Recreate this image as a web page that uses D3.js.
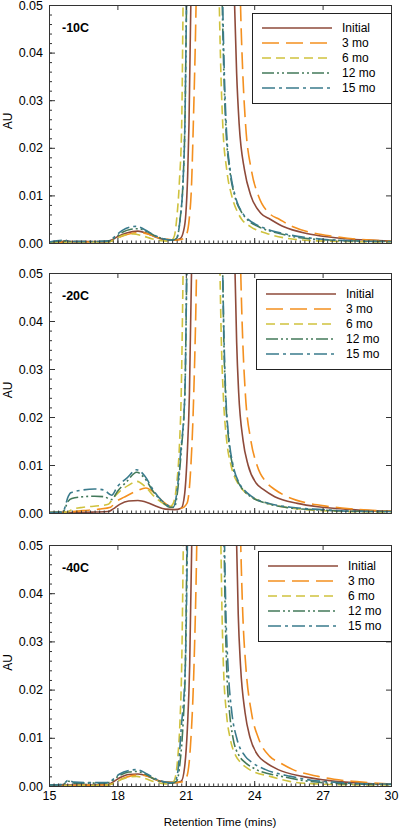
<!DOCTYPE html>
<html><head><meta charset="utf-8">
<script src="https://cdn.jsdelivr.net/npm/d3@7"></script>
<style>body{margin:0;background:#fff}svg{display:block}text{font-family:"Liberation Sans",Arial,sans-serif}</style>
</head><body>
<script>
// ---------- data ----------
const retentionTicks = [15, 18, 21, 24, 27, 30];
const auTicks = [0, 0.01, 0.02, 0.03, 0.04, 0.05];
const panelLabels = ["-10C", "-20C", "-40C"];
const seriesNames = ["Initial", "3 mo", "6 mo", "12 mo", "15 mo"];

// -10C
const c10_initial = [[15,0.0002],[15.6,0.0003],[15.75,0.0005],[15.9,0.0003],[16.5,0.0003],[17.5,0.0003],[17.7,0.0005],[18.0,0.0013],[18.4,0.0021],[18.9,0.0025],[19.3,0.002],[19.7,0.0012],[20.1,0.0007],[20.5,0.0006],[20.75,0.0009],[20.9,0.0025],[21.0,0.006],[21.08,0.014],[21.14,0.025],[21.22,0.05],[21.4,0.15],[22.2,0.5],[22.9,0.13],[23.14,0.05],[23.23,0.0356],[23.34,0.025],[23.58,0.0152],[23.85,0.01],[24.3,0.0062],[24.7,0.005],[25.3,0.0034],[26.3,0.002],[27.2,0.0013],[28,0.0009],[29,0.0006],[30,0.0004]];
const c10_3mo = [[15,0.0001],[16,0.0002],[17,0.0002],[17.6,0.0002],[17.8,0.0005],[18.2,0.0014],[18.6,0.002],[19.0,0.0022],[19.4,0.0018],[19.8,0.0011],[20.2,0.0008],[20.6,0.0006],[20.9,0.0009],[21.05,0.002],[21.15,0.005],[21.25,0.012],[21.33,0.025],[21.45,0.05],[21.7,0.15],[22.4,0.5],[23.15,0.13],[23.4,0.05],[23.5,0.0356],[23.62,0.025],[23.88,0.0152],[24.18,0.01],[24.67,0.0062],[25.1,0.005],[25.7,0.0034],[26.7,0.002],[27.5,0.0014],[28.5,0.0008],[30,0.0004]];
const c10_6mo = [[15,0.0001],[16,0.0002],[17,0.0002],[17.6,0.0002],[17.8,0.0005],[18.2,0.0015],[18.7,0.0019],[19.1,0.0015],[19.5,0.0009],[19.9,0.0005],[20.2,0.0004],[20.4,0.0007],[20.5,0.0015],[20.6,0.005],[20.72,0.013],[20.82,0.025],[20.88,0.05],[21.1,0.15],[21.8,0.5],[22.25,0.13],[22.47,0.05],[22.54,0.0356],[22.62,0.025],[22.8,0.0152],[23.01,0.01],[23.3,0.0062],[23.45,0.005],[23.85,0.0034],[24.55,0.002],[25.3,0.0011],[26.5,0.0005],[28,0.0003],[30,0.0002]];
const c10_12mo = [[15,0.0002],[15.7,0.0004],[16,0.0003],[17,0.0003],[17.6,0.0004],[17.8,0.0008],[18.2,0.0022],[18.6,0.0029],[18.9,0.003],[19.3,0.0024],[19.7,0.0014],[20.1,0.0008],[20.4,0.0006],[20.6,0.001],[20.75,0.005],[20.88,0.013],[20.96,0.025],[21.03,0.05],[21.25,0.15],[21.95,0.5],[22.38,0.13],[22.6,0.05],[22.67,0.0356],[22.75,0.025],[22.93,0.0152],[23.14,0.01],[23.48,0.0062],[23.7,0.0049],[24.2,0.0034],[25.1,0.002],[26,0.0011],[27,0.0007],[28,0.0005],[30,0.0003]];
const c10_15mo = [[15,0.0002],[15.7,0.0006],[15.9,0.0003],[17,0.0003],[17.6,0.0004],[17.8,0.001],[18.2,0.0026],[18.6,0.0034],[18.85,0.0035],[19.2,0.0028],[19.6,0.0017],[20.0,0.0009],[20.4,0.0006],[20.6,0.001],[20.75,0.005],[20.88,0.013],[20.96,0.025],[21.03,0.05],[21.25,0.15],[21.95,0.5],[22.4,0.13],[22.62,0.05],[22.69,0.0356],[22.77,0.025],[22.95,0.0152],[23.16,0.01],[23.5,0.0062],[23.75,0.0049],[24.3,0.0034],[25.25,0.002],[26.2,0.0012],[27,0.0008],[28,0.0005],[30,0.0003]];

// -20C
const c20_initial = [[15,0.0001],[16,0.0001],[17,0.0002],[17.6,0.0003],[17.8,0.0008],[18.1,0.0018],[18.5,0.0025],[18.9,0.0026],[19.3,0.0022],[19.7,0.0014],[20.1,0.0008],[20.5,0.0007],[20.8,0.001],[20.95,0.004],[21.06,0.012],[21.16,0.025],[21.25,0.05],[21.45,0.15],[22.2,0.5],[22.92,0.13],[23.16,0.05],[23.23,0.0356],[23.32,0.025],[23.51,0.0152],[23.73,0.01],[24.09,0.0062],[24.4,0.0049],[24.9,0.0034],[25.9,0.002],[26.8,0.0013],[28,0.0008],[29,0.0005],[30,0.0004]];
const c20_3mo = [[15,0.0001],[15.8,0.0002],[16.5,0.0005],[17.2,0.0008],[17.7,0.0012],[17.9,0.0022],[18.3,0.0033],[18.8,0.0045],[19.25,0.0052],[19.6,0.0043],[20.0,0.0024],[20.4,0.0012],[20.8,0.001],[21.05,0.002],[21.2,0.008],[21.35,0.025],[21.47,0.05],[21.7,0.15],[22.4,0.5],[23.16,0.13],[23.41,0.05],[23.5,0.0356],[23.61,0.025],[23.85,0.0152],[24.12,0.01],[24.57,0.0062],[24.9,0.0049],[25.45,0.0034],[26.4,0.002],[27.2,0.0014],[28.2,0.0009],[30,0.0004]];
const c20_6mo = [[15,0.0001],[15.8,0.0002],[16.0,0.0007],[16.5,0.0012],[17.2,0.0015],[17.6,0.0018],[17.8,0.003],[18.1,0.0045],[18.5,0.0058],[18.85,0.0066],[19.2,0.0056],[19.6,0.0035],[20.0,0.002],[20.3,0.0013],[20.45,0.002],[20.6,0.006],[20.72,0.014],[20.8,0.025],[20.88,0.05],[21.1,0.15],[21.8,0.5],[22.28,0.13],[22.5,0.05],[22.56,0.0356],[22.64,0.025],[22.79,0.0152],[22.98,0.01],[23.28,0.0062],[23.48,0.0049],[23.87,0.0034],[24.6,0.002],[25.5,0.0011],[27,0.0005],[28,0.0003],[30,0.0002]];
const c20_12mo = [[15,0.0001],[15.6,0.0002],[15.85,0.0025],[16.0,0.003],[16.5,0.0034],[17.0,0.0035],[17.4,0.0034],[17.75,0.0028],[18.0,0.0045],[18.4,0.0065],[18.85,0.0085],[19.2,0.0072],[19.6,0.0043],[20.0,0.0022],[20.3,0.0012],[20.5,0.0012],[20.65,0.005],[20.8,0.013],[20.96,0.025],[21.04,0.05],[21.25,0.15],[21.95,0.5],[22.4,0.13],[22.62,0.05],[22.67,0.0356],[22.74,0.025],[22.88,0.0152],[23.05,0.01],[23.32,0.0062],[23.5,0.0049],[23.85,0.0034],[24.55,0.002],[25.5,0.0011],[27,0.0006],[28,0.0004],[30,0.0003]];
const c20_15mo = [[15,0.0001],[15.6,0.0002],[15.85,0.0035],[15.95,0.0042],[16.5,0.0048],[17.0,0.005],[17.4,0.0048],[17.75,0.0037],[18.0,0.0055],[18.4,0.0072],[18.85,0.009],[19.2,0.0077],[19.57,0.0048],[19.9,0.0028],[20.2,0.0016],[20.45,0.0012],[20.6,0.004],[20.78,0.013],[20.96,0.025],[21.04,0.05],[21.25,0.15],[21.95,0.5],[22.4,0.13],[22.62,0.05],[22.68,0.0356],[22.75,0.025],[22.9,0.0152],[23.07,0.01],[23.35,0.0062],[23.54,0.0049],[23.9,0.0034],[24.65,0.002],[25.6,0.0012],[27,0.0007],[28,0.0004],[30,0.0003]];

// -40C
const c40_initial = [[15,0.0002],[16,0.0002],[17,0.0002],[17.6,0.0003],[17.8,0.0008],[18.1,0.0017],[18.5,0.0024],[18.9,0.0025],[19.3,0.0021],[19.7,0.0013],[20.1,0.0008],[20.5,0.0007],[20.8,0.001],[20.95,0.004],[21.07,0.012],[21.17,0.025],[21.26,0.05],[21.45,0.15],[22.2,0.5],[22.98,0.13],[23.23,0.05],[23.3,0.0356],[23.4,0.025],[23.6,0.0152],[23.82,0.01],[24.19,0.0062],[24.5,0.0049],[25.05,0.0034],[26.1,0.002],[27,0.0013],[28,0.0008],[29,0.0005],[30,0.0004]];
const c40_3mo = [[15,0.0001],[16,0.0001],[17,0.0002],[17.6,0.0002],[17.8,0.0005],[18.2,0.0015],[18.6,0.0021],[19.0,0.0023],[19.4,0.0019],[19.8,0.0011],[20.2,0.0008],[20.6,0.0007],[20.9,0.0009],[21.05,0.002],[21.2,0.008],[21.36,0.025],[21.48,0.05],[21.7,0.15],[22.4,0.5],[23.16,0.13],[23.41,0.05],[23.5,0.0356],[23.63,0.025],[23.88,0.0152],[24.18,0.01],[24.67,0.0062],[25.1,0.0049],[25.7,0.0034],[26.8,0.002],[27.5,0.0014],[28.5,0.0009],[30,0.0004]];
const c40_6mo = [[15,0.0001],[16,0.0001],[17,0.0001],[17.6,0.0002],[17.8,0.0005],[18.2,0.0014],[18.6,0.0019],[18.85,0.002],[19.2,0.0016],[19.6,0.0009],[20.0,0.0005],[20.3,0.0004],[20.45,0.0008],[20.55,0.002],[20.65,0.006],[20.75,0.014],[20.82,0.025],[20.89,0.05],[21.1,0.15],[21.8,0.5],[22.32,0.13],[22.54,0.05],[22.59,0.0356],[22.65,0.025],[22.78,0.0152],[22.94,0.01],[23.2,0.0062],[23.4,0.0049],[23.8,0.0034],[24.7,0.002],[25.6,0.0009],[26.5,0.0005],[27.5,0.0003],[30,0.0002]];
const c40_12mo = [[15,0.0002],[15.6,0.0003],[15.85,0.001],[16.1,0.0006],[16.6,0.0006],[17.5,0.0006],[17.7,0.0009],[18.1,0.0022],[18.5,0.0029],[18.85,0.003],[19.3,0.0023],[19.7,0.0012],[20.1,0.0007],[20.4,0.0006],[20.6,0.001],[20.75,0.005],[20.88,0.013],[20.98,0.025],[21.05,0.05],[21.25,0.15],[21.95,0.5],[22.45,0.13],[22.68,0.05],[22.73,0.0356],[22.79,0.025],[22.92,0.0152],[23.07,0.01],[23.35,0.0062],[23.6,0.0049],[24.1,0.0034],[25.2,0.002],[26.2,0.0011],[27.3,0.0006],[28.5,0.0004],[30,0.0003]];
const c40_15mo = [[15,0.0002],[15.6,0.0003],[15.85,0.0012],[16.1,0.0008],[16.6,0.0007],[17.5,0.0007],[17.7,0.001],[18.1,0.0025],[18.5,0.0032],[18.85,0.0034],[19.3,0.0025],[19.8,0.0012],[20.3,0.0007],[20.5,0.0007],[20.65,0.003],[20.8,0.012],[20.98,0.025],[21.07,0.05],[21.3,0.15],[21.95,0.5],[22.47,0.13],[22.7,0.05],[22.76,0.0356],[22.85,0.025],[23.02,0.0152],[23.23,0.01],[23.6,0.0062],[23.9,0.0049],[24.5,0.0034],[25.6,0.002],[26.5,0.0012],[27.5,0.0008],[28.5,0.0005],[30,0.0004]];

const panelData = [
  [c10_initial, c10_3mo, c10_6mo, c10_12mo, c10_15mo],
  [c20_initial, c20_3mo, c20_6mo, c20_12mo, c20_15mo],
  [c40_initial, c40_3mo, c40_6mo, c40_12mo, c40_15mo]
];

// ---------- styles / layout ----------
const colors = ["#8e4a3a", "#f4901f", "#cfc23e", "#43795a", "#3a7b8c"];
const dashes = [null, "17,7", "9,5", "12,3,2,3,2,3", "13,4,3,4"];
const W = 400, H = 829;
const left = 49, right = 391;
const tops = [5, 273, 545], bottoms = [243, 513, 786];
const legendLefts = [252, 256, 258], legendTopOff = [8, 6, 6];

const svg = d3.select("body").append("svg").attr("width", W).attr("height", H);
const x = d3.scaleLinear().domain([15, 30]).range([left, right]);
const fmt = d3.format(".2f");
const FONT = '"Liberation Sans",Arial,sans-serif';

panelData.forEach((series, pi) => {
  const top = tops[pi], bottom = bottoms[pi];
  const y = d3.scaleLinear().domain([0, 0.05]).range([bottom, top]);
  const g = svg.append("g");

  g.append("clipPath").attr("id", "clip" + pi)
    .append("rect").attr("x", left).attr("y", top).attr("width", right - left).attr("height", bottom - top);

  const line = d3.line().x(d => x(d[0])).y(d => y(d[1])).curve(d3.curveMonotoneX);
  const lg = g.append("g").attr("clip-path", `url(#clip${pi})`);
  series.forEach((s, si) => {
    lg.append("path").attr("d", line(s)).attr("fill", "none")
      .attr("stroke", colors[si]).attr("stroke-width", 1.6)
      .attr("stroke-dasharray", dashes[si]);
  });

  // minor ticks
  const minorY = d3.range(0, 0.0501, 0.002);
  const minorX = d3.range(15, 30.001, 0.2);
  g.append("g").attr("transform", `translate(${left},0)`)
    .call(d3.axisLeft(y).tickValues(minorY).tickSize(-3).tickFormat(""))
    .call(a => a.select(".domain").remove());
  g.append("g").attr("transform", `translate(0,${bottom})`)
    .call(d3.axisBottom(x).tickValues(minorX).tickSize(-2.5).tickFormat(""))
    .call(a => a.select(".domain").remove());

  // major ticks
  const ay = g.append("g").attr("transform", `translate(${left},0)`)
    .call(d3.axisLeft(y).tickValues(auTicks).tickSize(-6).tickPadding(6).tickFormat(fmt));
  ay.select(".domain").remove();
  ay.selectAll("text").attr("font-size", 12.5).attr("fill", "#000").attr("font-family", FONT);
  g.append("g").attr("transform", `translate(${right},0)`)
    .call(d3.axisRight(y).tickValues(auTicks).tickSize(-5).tickFormat(""))
    .call(a => a.select(".domain").remove());
  g.append("g").attr("transform", `translate(0,${top})`)
    .call(d3.axisTop(x).tickValues(retentionTicks).tickSize(-5).tickFormat(""))
    .call(a => a.select(".domain").remove());
  const ax = g.append("g").attr("transform", `translate(0,${bottom})`)
    .call(d3.axisBottom(x).tickValues(retentionTicks).tickSize(-5).tickPadding(5)
      .tickFormat(pi === 2 ? d3.format("d") : ""));
  ax.select(".domain").remove();
  ax.selectAll("text").attr("font-size", 12.5).attr("fill", "#000").attr("font-family", FONT);
  g.selectAll(".tick line").attr("stroke", "#333");

  // frame
  g.append("rect").attr("x", left + 0.5).attr("y", top + 0.5)
    .attr("width", right - left).attr("height", bottom - top)
    .attr("fill", "none").attr("stroke", "#333").attr("stroke-width", 1);

  // panel label
  g.append("text").attr("x", left + 13).attr("y", top + 27)
    .attr("font-size", 12.5).attr("font-weight", "bold").text(panelLabels[pi]);

  // AU label
  g.append("text").attr("transform", `translate(11.5,${(top + bottom) / 2 - 3}) rotate(-90)`)
    .attr("text-anchor", "middle").attr("font-size", 12).text("AU");

  // legend
  const bx = legendLefts[pi], by = top + legendTopOff[pi];
  const leg = g.append("g");
  leg.append("rect").attr("x", bx + 0.5).attr("y", by + 0.5).attr("width", right - bx).attr("height", 90)
    .attr("fill", "#fff").attr("stroke", "#222").attr("stroke-width", 1);
  seriesNames.forEach((name, si) => {
    const ry = by + 15 + si * 15;
    leg.append("line").attr("x1", bx + 10).attr("x2", bx + 80).attr("y1", ry).attr("y2", ry)
      .attr("stroke", colors[si]).attr("stroke-width", 1.6).attr("stroke-dasharray", dashes[si]);
    leg.append("text").attr("x", bx + 90).attr("y", ry + 4.3).attr("font-size", 12).text(name);
  });
});

svg.append("text").attr("x", (left + right) / 2).attr("y", 826)
  .attr("text-anchor", "middle").attr("font-size", 11.5).text("Retention Time (mins)");
</script>
</body></html>
